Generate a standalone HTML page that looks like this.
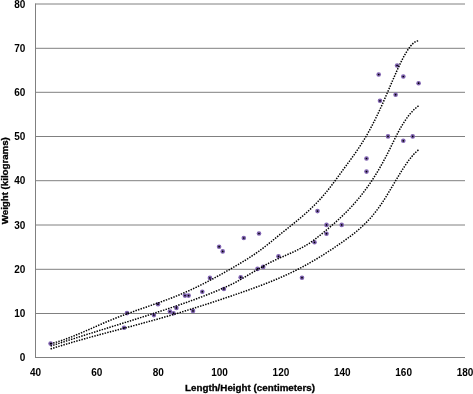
<!DOCTYPE html>
<html><head><meta charset="utf-8"><style>
html,body{margin:0;padding:0;background:#fff;}
body{width:473px;height:394px;overflow:hidden;}
svg{display:block;}
text{font-family:"Liberation Sans",sans-serif;font-weight:bold;fill:#000;}
.t{opacity:0.999;will-change:opacity;}
</style></head><body>
<svg width="473" height="394" viewBox="0 0 473 394">
<rect width="473" height="394" fill="#fff"/>
<g stroke="#808080" stroke-width="1" fill="none"><line x1="35" y1="313.50" x2="465" y2="313.50"/><line x1="35" y1="269.30" x2="465" y2="269.30"/><line x1="35" y1="225.00" x2="465" y2="225.00"/><line x1="35" y1="180.70" x2="465" y2="180.70"/><line x1="35" y1="136.50" x2="465" y2="136.50"/><line x1="35" y1="92.30" x2="465" y2="92.30"/><line x1="35" y1="48.30" x2="465" y2="48.30"/><line x1="35" y1="4.00" x2="465" y2="4.00"/>
<line x1="35.5" y1="3.6" x2="35.5" y2="358"/>
<line x1="35" y1="357.5" x2="465" y2="357.5"/>
</g>
<g class="t"><g font-size="10" text-anchor="end"><text x="25.4" y="361.10">0</text><text x="25.4" y="317.10">10</text><text x="25.4" y="272.90">20</text><text x="25.4" y="228.60">30</text><text x="25.4" y="184.30">40</text><text x="25.4" y="140.10">50</text><text x="25.4" y="95.90">60</text><text x="25.4" y="51.90">70</text><text x="25.4" y="7.60">80</text></g>
<g font-size="10" text-anchor="middle"><text x="35.50" y="375.7">40</text><text x="96.86" y="375.7">60</text><text x="158.21" y="375.7">80</text><text x="219.57" y="375.7">100</text><text x="280.93" y="375.7">120</text><text x="342.29" y="375.7">140</text><text x="403.64" y="375.7">160</text><text x="465.00" y="375.7">180</text></g>
<text x="185" y="391.3" font-size="9" stroke="#000" stroke-width="0.3" textLength="130" lengthAdjust="spacingAndGlyphs">Length/Height (centimeters)</text>
<text transform="translate(8.4,224.2) rotate(-90)" font-size="9" stroke="#000" stroke-width="0.3" textLength="87" lengthAdjust="spacingAndGlyphs">Weight (kilograms)</text></g>
<g fill="#7f62b0"><circle cx="50.6" cy="343.6" r="2.3"/><circle cx="127.0" cy="313.1" r="2.3"/><circle cx="124.1" cy="327.8" r="2.3"/><circle cx="153.9" cy="315.1" r="2.3"/><circle cx="158.0" cy="304.2" r="2.3"/><circle cx="169.9" cy="311.6" r="2.3"/><circle cx="173.5" cy="313.2" r="2.3"/><circle cx="176.4" cy="307.9" r="2.3"/><circle cx="185.0" cy="295.6" r="2.3"/><circle cx="188.6" cy="295.6" r="2.3"/><circle cx="193.0" cy="310.9" r="2.3"/><circle cx="202.3" cy="291.7" r="2.3"/><circle cx="209.9" cy="277.9" r="2.3"/><circle cx="219.1" cy="246.7" r="2.3"/><circle cx="222.7" cy="251.4" r="2.3"/><circle cx="240.7" cy="277.2" r="2.3"/><circle cx="243.8" cy="238.0" r="2.3"/><circle cx="259.0" cy="233.5" r="2.3"/><circle cx="257.5" cy="268.9" r="2.3"/><circle cx="263.2" cy="266.9" r="2.3"/><circle cx="278.5" cy="256.3" r="2.3"/><circle cx="302.0" cy="277.7" r="2.3"/><circle cx="314.5" cy="242.3" r="2.3"/><circle cx="317.5" cy="211.1" r="2.3"/><circle cx="326.5" cy="224.9" r="2.3"/><circle cx="326.5" cy="233.7" r="2.3"/><circle cx="341.7" cy="224.9" r="2.3"/><circle cx="366.5" cy="158.5" r="2.3"/><circle cx="366.5" cy="171.6" r="2.3"/><circle cx="378.7" cy="74.5" r="2.3"/><circle cx="380.0" cy="100.8" r="2.3"/><circle cx="388.0" cy="136.4" r="2.3"/><circle cx="395.6" cy="94.7" r="2.3"/><circle cx="397.1" cy="65.5" r="2.3"/><circle cx="403.3" cy="76.5" r="2.3"/><circle cx="403.3" cy="140.8" r="2.3"/><circle cx="412.7" cy="136.4" r="2.3"/><circle cx="418.6" cy="83.2" r="2.3"/><circle cx="223.9" cy="289.0" r="2.3"/></g>
<g fill="#000"><circle cx="50.6" cy="343.6" r="0.85"/><circle cx="127.0" cy="313.1" r="0.85"/><circle cx="124.1" cy="327.8" r="0.85"/><circle cx="153.9" cy="315.1" r="0.85"/><circle cx="158.0" cy="304.2" r="0.85"/><circle cx="169.9" cy="311.6" r="0.85"/><circle cx="173.5" cy="313.2" r="0.85"/><circle cx="176.4" cy="307.9" r="0.85"/><circle cx="185.0" cy="295.6" r="0.85"/><circle cx="188.6" cy="295.6" r="0.85"/><circle cx="193.0" cy="310.9" r="0.85"/><circle cx="202.3" cy="291.7" r="0.85"/><circle cx="209.9" cy="277.9" r="0.85"/><circle cx="219.1" cy="246.7" r="0.85"/><circle cx="222.7" cy="251.4" r="0.85"/><circle cx="240.7" cy="277.2" r="0.85"/><circle cx="243.8" cy="238.0" r="0.85"/><circle cx="259.0" cy="233.5" r="0.85"/><circle cx="257.5" cy="268.9" r="0.85"/><circle cx="263.2" cy="266.9" r="0.85"/><circle cx="278.5" cy="256.3" r="0.85"/><circle cx="302.0" cy="277.7" r="0.85"/><circle cx="314.5" cy="242.3" r="0.85"/><circle cx="317.5" cy="211.1" r="0.85"/><circle cx="326.5" cy="224.9" r="0.85"/><circle cx="326.5" cy="233.7" r="0.85"/><circle cx="341.7" cy="224.9" r="0.85"/><circle cx="366.5" cy="158.5" r="0.85"/><circle cx="366.5" cy="171.6" r="0.85"/><circle cx="378.7" cy="74.5" r="0.85"/><circle cx="380.0" cy="100.8" r="0.85"/><circle cx="388.0" cy="136.4" r="0.85"/><circle cx="395.6" cy="94.7" r="0.85"/><circle cx="397.1" cy="65.5" r="0.85"/><circle cx="403.3" cy="76.5" r="0.85"/><circle cx="403.3" cy="140.8" r="0.85"/><circle cx="412.7" cy="136.4" r="0.85"/><circle cx="418.6" cy="83.2" r="0.85"/><circle cx="223.9" cy="289.0" r="0.85"/></g>
<g fill="none" stroke="#000" stroke-width="1.5" stroke-dasharray="1.45 1.23">
<path d="M50.60,343.75 C50.85,343.69 51.60,343.50 52.10,343.37 C52.60,343.23 53.10,343.10 53.60,342.96 C54.10,342.82 54.60,342.68 55.10,342.54 C55.60,342.39 56.10,342.25 56.60,342.10 C57.10,341.95 57.60,341.79 58.10,341.64 C58.60,341.48 59.10,341.32 59.60,341.16 C60.10,341.00 60.60,340.84 61.10,340.67 C61.60,340.51 62.10,340.34 62.60,340.17 C63.10,339.99 63.60,339.82 64.10,339.64 C64.60,339.47 65.10,339.29 65.60,339.11 C66.10,338.93 66.60,338.75 67.10,338.56 C67.60,338.38 68.10,338.19 68.60,338.00 C69.10,337.81 69.60,337.62 70.10,337.43 C70.60,337.23 71.10,337.04 71.60,336.84 C72.10,336.65 72.60,336.45 73.10,336.25 C73.60,336.05 74.10,335.85 74.60,335.65 C75.10,335.44 75.60,335.24 76.10,335.03 C76.60,334.83 77.10,334.62 77.60,334.41 C78.10,334.20 78.60,334.00 79.10,333.78 C79.60,333.57 80.10,333.36 80.60,333.15 C81.10,332.94 81.60,332.72 82.10,332.51 C82.60,332.29 83.10,332.08 83.60,331.86 C84.10,331.65 84.60,331.43 85.10,331.21 C85.60,330.99 86.10,330.78 86.60,330.56 C87.10,330.34 87.60,330.12 88.10,329.90 C88.60,329.68 89.10,329.46 89.60,329.24 C90.10,329.02 90.60,328.80 91.10,328.58 C91.60,328.36 92.10,328.14 92.60,327.92 C93.10,327.69 93.60,327.47 94.10,327.25 C94.60,327.03 95.10,326.81 95.60,326.59 C96.10,326.37 96.60,326.15 97.10,325.93 C97.60,325.71 98.10,325.49 98.60,325.27 C99.10,325.05 99.60,324.83 100.10,324.61 C100.60,324.39 101.10,324.17 101.60,323.96 C102.10,323.74 102.60,323.52 103.10,323.31 C103.60,323.09 104.10,322.88 104.60,322.66 C105.10,322.45 105.60,322.24 106.10,322.02 C106.60,321.81 107.10,321.60 107.60,321.39 C108.10,321.18 108.60,320.97 109.10,320.76 C109.60,320.56 110.10,320.35 110.60,320.15 C111.10,319.94 111.60,319.74 112.10,319.53 C112.60,319.33 113.10,319.13 113.60,318.93 C114.10,318.73 114.60,318.53 115.10,318.34 C115.60,318.14 116.10,317.94 116.60,317.75 C117.10,317.55 117.60,317.36 118.10,317.17 C118.60,316.97 119.10,316.78 119.60,316.59 C120.10,316.40 120.60,316.21 121.10,316.02 C121.60,315.83 122.10,315.65 122.60,315.46 C123.10,315.27 123.60,315.09 124.10,314.90 C124.60,314.72 125.10,314.53 125.60,314.35 C126.10,314.16 126.60,313.98 127.10,313.80 C127.60,313.62 128.10,313.44 128.60,313.25 C129.10,313.07 129.60,312.89 130.10,312.71 C130.60,312.54 131.10,312.36 131.60,312.18 C132.10,312.00 132.60,311.82 133.10,311.64 C133.60,311.47 134.10,311.29 134.60,311.11 C135.10,310.94 135.60,310.76 136.10,310.58 C136.60,310.41 137.10,310.23 137.60,310.06 C138.10,309.88 138.60,309.71 139.10,309.53 C139.60,309.36 140.10,309.18 140.60,309.01 C141.10,308.84 141.60,308.66 142.10,308.49 C142.60,308.31 143.10,308.14 143.60,307.97 C144.10,307.79 144.60,307.62 145.10,307.44 C145.60,307.27 146.10,307.10 146.60,306.92 C147.10,306.75 147.60,306.57 148.10,306.40 C148.60,306.23 149.10,306.05 149.60,305.88 C150.10,305.70 150.60,305.53 151.10,305.35 C151.60,305.18 152.10,305.00 152.60,304.83 C153.10,304.65 153.60,304.48 154.10,304.30 C154.60,304.13 155.10,303.95 155.60,303.77 C156.10,303.59 156.60,303.42 157.10,303.24 C157.60,303.06 158.10,302.88 158.60,302.70 C159.10,302.53 159.60,302.35 160.10,302.17 C160.60,301.99 161.10,301.81 161.60,301.62 C162.10,301.44 162.60,301.26 163.10,301.08 C163.60,300.89 164.10,300.71 164.60,300.53 C165.10,300.34 165.60,300.16 166.10,299.97 C166.60,299.79 167.10,299.60 167.60,299.41 C168.10,299.22 168.60,299.04 169.10,298.85 C169.60,298.66 170.10,298.47 170.60,298.27 C171.10,298.08 171.60,297.89 172.10,297.70 C172.60,297.50 173.10,297.31 173.60,297.11 C174.10,296.92 174.60,296.72 175.10,296.52 C175.60,296.32 176.10,296.12 176.60,295.92 C177.10,295.72 177.60,295.52 178.10,295.31 C178.60,295.11 179.10,294.91 179.60,294.70 C180.10,294.49 180.60,294.29 181.10,294.08 C181.60,293.87 182.10,293.66 182.60,293.45 C183.10,293.23 183.60,293.02 184.10,292.81 C184.60,292.59 185.10,292.37 185.60,292.16 C186.10,291.94 186.60,291.72 187.10,291.50 C187.60,291.27 188.10,291.05 188.60,290.83 C189.10,290.60 189.60,290.38 190.10,290.15 C190.60,289.92 191.10,289.69 191.60,289.46 C192.10,289.23 192.60,289.00 193.10,288.76 C193.60,288.53 194.10,288.30 194.60,288.06 C195.10,287.82 195.60,287.58 196.10,287.34 C196.60,287.11 197.10,286.86 197.60,286.62 C198.10,286.38 198.60,286.14 199.10,285.89 C199.60,285.65 200.10,285.40 200.60,285.15 C201.10,284.90 201.60,284.66 202.10,284.40 C202.60,284.15 203.10,283.90 203.60,283.65 C204.10,283.40 204.60,283.14 205.10,282.89 C205.60,282.63 206.10,282.38 206.60,282.12 C207.10,281.86 207.60,281.60 208.10,281.34 C208.60,281.08 209.10,280.82 209.60,280.56 C210.10,280.29 210.60,280.03 211.10,279.76 C211.60,279.50 212.10,279.23 212.60,278.97 C213.10,278.70 213.60,278.43 214.10,278.16 C214.60,277.89 215.10,277.62 215.60,277.35 C216.10,277.08 216.60,276.81 217.10,276.53 C217.60,276.26 218.10,275.99 218.60,275.71 C219.10,275.43 219.60,275.16 220.10,274.88 C220.60,274.60 221.10,274.33 221.60,274.05 C222.10,273.77 222.60,273.49 223.10,273.21 C223.60,272.93 224.10,272.64 224.60,272.36 C225.10,272.08 225.60,271.79 226.10,271.51 C226.60,271.23 227.10,270.94 227.60,270.65 C228.10,270.37 228.60,270.08 229.10,269.79 C229.60,269.51 230.10,269.22 230.60,268.93 C231.10,268.64 231.60,268.35 232.10,268.06 C232.60,267.77 233.10,267.48 233.60,267.18 C234.10,266.89 234.60,266.60 235.10,266.31 C235.60,266.01 236.10,265.72 236.60,265.42 C237.10,265.13 237.60,264.83 238.10,264.54 C238.60,264.24 239.10,263.95 239.60,263.65 C240.10,263.35 240.60,263.05 241.10,262.76 C241.60,262.46 242.10,262.16 242.60,261.86 C243.10,261.55 243.60,261.25 244.10,260.95 C244.60,260.64 245.10,260.34 245.60,260.03 C246.10,259.72 246.60,259.41 247.10,259.10 C247.60,258.79 248.10,258.48 248.60,258.16 C249.10,257.85 249.60,257.53 250.10,257.21 C250.60,256.88 251.10,256.56 251.60,256.23 C252.10,255.91 252.60,255.58 253.10,255.24 C253.60,254.91 254.10,254.57 254.60,254.23 C255.10,253.89 255.60,253.55 256.10,253.20 C256.60,252.85 257.10,252.50 257.60,252.15 C258.10,251.79 258.60,251.43 259.10,251.07 C259.60,250.70 260.10,250.34 260.60,249.96 C261.10,249.59 261.60,249.22 262.10,248.84 C262.60,248.46 263.10,248.08 263.60,247.69 C264.10,247.30 264.60,246.92 265.10,246.53 C265.60,246.13 266.10,245.74 266.60,245.34 C267.10,244.95 267.60,244.55 268.10,244.15 C268.60,243.75 269.10,243.35 269.60,242.95 C270.10,242.54 270.60,242.14 271.10,241.73 C271.60,241.32 272.10,240.92 272.60,240.51 C273.10,240.10 273.60,239.69 274.10,239.28 C274.60,238.87 275.10,238.47 275.60,238.06 C276.10,237.65 276.60,237.24 277.10,236.83 C277.60,236.42 278.10,236.01 278.60,235.60 C279.10,235.19 279.60,234.79 280.10,234.38 C280.60,233.97 281.10,233.57 281.60,233.16 C282.10,232.76 282.60,232.36 283.10,231.96 C283.60,231.55 284.10,231.15 284.60,230.75 C285.10,230.35 285.60,229.95 286.10,229.55 C286.60,229.15 287.10,228.76 287.60,228.36 C288.10,227.96 288.60,227.56 289.10,227.16 C289.60,226.76 290.10,226.36 290.60,225.96 C291.10,225.56 291.60,225.16 292.10,224.76 C292.60,224.36 293.10,223.95 293.60,223.55 C294.10,223.14 294.60,222.74 295.10,222.33 C295.60,221.92 296.10,221.52 296.60,221.11 C297.10,220.70 297.60,220.28 298.10,219.87 C298.60,219.45 299.10,219.04 299.60,218.62 C300.10,218.20 300.60,217.78 301.10,217.35 C301.60,216.93 302.10,216.50 302.60,216.07 C303.10,215.64 303.60,215.20 304.10,214.77 C304.60,214.33 305.10,213.89 305.60,213.45 C306.10,213.00 306.60,212.55 307.10,212.10 C307.60,211.65 308.10,211.19 308.60,210.73 C309.10,210.27 309.60,209.80 310.10,209.33 C310.60,208.86 311.10,208.39 311.60,207.91 C312.10,207.43 312.60,206.95 313.10,206.46 C313.60,205.97 314.10,205.47 314.60,204.97 C315.10,204.47 315.60,203.96 316.10,203.45 C316.60,202.94 317.10,202.42 317.60,201.89 C318.10,201.37 318.60,200.84 319.10,200.30 C319.60,199.76 320.10,199.22 320.60,198.67 C321.10,198.12 321.60,197.56 322.10,196.99 C322.60,196.43 323.10,195.86 323.60,195.28 C324.10,194.70 324.60,194.11 325.10,193.51 C325.60,192.92 326.10,192.31 326.60,191.70 C327.10,191.09 327.60,190.47 328.10,189.85 C328.60,189.22 329.10,188.59 329.60,187.95 C330.10,187.31 330.60,186.66 331.10,186.01 C331.60,185.36 332.10,184.70 332.60,184.04 C333.10,183.38 333.60,182.71 334.10,182.04 C334.60,181.37 335.10,180.70 335.60,180.02 C336.10,179.35 336.60,178.67 337.10,177.99 C337.60,177.31 338.10,176.62 338.60,175.94 C339.10,175.25 339.60,174.57 340.10,173.88 C340.60,173.20 341.10,172.51 341.60,171.83 C342.10,171.14 342.60,170.46 343.10,169.77 C343.60,169.09 344.10,168.41 344.60,167.73 C345.10,167.05 345.60,166.37 346.10,165.70 C346.60,165.02 347.10,164.34 347.60,163.66 C348.10,162.99 348.60,162.31 349.10,161.63 C349.60,160.95 350.10,160.27 350.60,159.59 C351.10,158.90 351.60,158.22 352.10,157.53 C352.60,156.84 353.10,156.15 353.60,155.45 C354.10,154.75 354.60,154.05 355.10,153.34 C355.60,152.63 356.10,151.91 356.60,151.19 C357.10,150.47 357.60,149.74 358.10,149.00 C358.60,148.26 359.10,147.52 359.60,146.76 C360.10,146.01 360.60,145.25 361.10,144.47 C361.60,143.70 362.10,142.92 362.60,142.12 C363.10,141.32 363.60,140.52 364.10,139.70 C364.60,138.88 365.10,138.05 365.60,137.20 C366.10,136.36 366.60,135.50 367.10,134.63 C367.60,133.75 368.10,132.87 368.60,131.97 C369.10,131.07 369.60,130.16 370.10,129.23 C370.60,128.31 371.10,127.37 371.60,126.42 C372.10,125.47 372.60,124.51 373.10,123.53 C373.60,122.56 374.10,121.57 374.60,120.57 C375.10,119.57 375.60,118.56 376.10,117.54 C376.60,116.51 377.10,115.48 377.60,114.43 C378.10,113.39 378.60,112.33 379.10,111.26 C379.60,110.20 380.10,109.12 380.60,108.03 C381.10,106.94 381.60,105.84 382.10,104.73 C382.60,103.62 383.10,102.50 383.60,101.37 C384.10,100.24 384.60,99.11 385.10,97.96 C385.60,96.82 386.10,95.66 386.60,94.51 C387.10,93.35 387.60,92.19 388.10,91.03 C388.60,89.86 389.10,88.70 389.60,87.53 C390.10,86.37 390.60,85.20 391.10,84.04 C391.60,82.88 392.10,81.72 392.60,80.56 C393.10,79.41 393.60,78.26 394.10,77.11 C394.60,75.97 395.10,74.83 395.60,73.71 C396.10,72.58 396.60,71.46 397.10,70.36 C397.60,69.25 398.10,68.16 398.60,67.08 C399.10,66.01 399.60,64.94 400.10,63.90 C400.60,62.86 401.10,61.84 401.60,60.84 C402.10,59.84 402.60,58.86 403.10,57.91 C403.60,56.96 404.10,56.04 404.60,55.14 C405.10,54.25 405.60,53.38 406.10,52.55 C406.60,51.72 407.10,50.92 407.60,50.16 C408.10,49.40 408.60,48.68 409.10,48.00 C409.60,47.31 410.10,46.67 410.60,46.07 C411.10,45.47 411.60,44.91 412.10,44.41 C412.60,43.90 413.10,43.44 413.60,43.03 C414.10,42.62 414.60,42.26 415.10,41.96 C415.60,41.65 416.10,41.40 416.60,41.21 C417.10,41.02 417.77,40.89 418.10,40.81 C418.43,40.74 418.52,40.77 418.60,40.76"/>
<path d="M50.60,346.10 C50.85,346.02 51.60,345.77 52.10,345.61 C52.60,345.45 53.10,345.28 53.60,345.12 C54.10,344.95 54.60,344.79 55.10,344.63 C55.60,344.46 56.10,344.30 56.60,344.14 C57.10,343.97 57.60,343.81 58.10,343.65 C58.60,343.49 59.10,343.32 59.60,343.16 C60.10,343.00 60.60,342.84 61.10,342.68 C61.60,342.51 62.10,342.35 62.60,342.19 C63.10,342.03 63.60,341.87 64.10,341.71 C64.60,341.54 65.10,341.38 65.60,341.22 C66.10,341.06 66.60,340.90 67.10,340.74 C67.60,340.58 68.10,340.42 68.60,340.26 C69.10,340.10 69.60,339.94 70.10,339.78 C70.60,339.62 71.10,339.46 71.60,339.30 C72.10,339.14 72.60,338.98 73.10,338.82 C73.60,338.66 74.10,338.50 74.60,338.35 C75.10,338.19 75.60,338.03 76.10,337.87 C76.60,337.71 77.10,337.55 77.60,337.39 C78.10,337.23 78.60,337.08 79.10,336.92 C79.60,336.76 80.10,336.60 80.60,336.44 C81.10,336.29 81.60,336.13 82.10,335.97 C82.60,335.81 83.10,335.65 83.60,335.50 C84.10,335.34 84.60,335.18 85.10,335.02 C85.60,334.87 86.10,334.71 86.60,334.55 C87.10,334.39 87.60,334.24 88.10,334.08 C88.60,333.92 89.10,333.77 89.60,333.61 C90.10,333.45 90.60,333.30 91.10,333.14 C91.60,332.98 92.10,332.83 92.60,332.67 C93.10,332.51 93.60,332.36 94.10,332.20 C94.60,332.04 95.10,331.89 95.60,331.73 C96.10,331.57 96.60,331.42 97.10,331.26 C97.60,331.10 98.10,330.95 98.60,330.79 C99.10,330.63 99.60,330.48 100.10,330.32 C100.60,330.17 101.10,330.01 101.60,329.85 C102.10,329.70 102.60,329.54 103.10,329.39 C103.60,329.23 104.10,329.07 104.60,328.92 C105.10,328.76 105.60,328.60 106.10,328.45 C106.60,328.29 107.10,328.14 107.60,327.98 C108.10,327.82 108.60,327.67 109.10,327.51 C109.60,327.36 110.10,327.20 110.60,327.04 C111.10,326.89 111.60,326.73 112.10,326.58 C112.60,326.42 113.10,326.26 113.60,326.11 C114.10,325.95 114.60,325.79 115.10,325.64 C115.60,325.48 116.10,325.33 116.60,325.17 C117.10,325.01 117.60,324.86 118.10,324.70 C118.60,324.54 119.10,324.39 119.60,324.23 C120.10,324.07 120.60,323.92 121.10,323.76 C121.60,323.61 122.10,323.45 122.60,323.29 C123.10,323.14 123.60,322.98 124.10,322.82 C124.60,322.66 125.10,322.51 125.60,322.35 C126.10,322.19 126.60,322.04 127.10,321.88 C127.60,321.72 128.10,321.57 128.60,321.41 C129.10,321.25 129.60,321.09 130.10,320.94 C130.60,320.78 131.10,320.62 131.60,320.46 C132.10,320.31 132.60,320.15 133.10,319.99 C133.60,319.83 134.10,319.67 134.60,319.52 C135.10,319.36 135.60,319.20 136.10,319.04 C136.60,318.88 137.10,318.73 137.60,318.57 C138.10,318.41 138.60,318.25 139.10,318.09 C139.60,317.93 140.10,317.77 140.60,317.61 C141.10,317.46 141.60,317.30 142.10,317.14 C142.60,316.98 143.10,316.82 143.60,316.66 C144.10,316.50 144.60,316.34 145.10,316.18 C145.60,316.02 146.10,315.86 146.60,315.70 C147.10,315.54 147.60,315.38 148.10,315.22 C148.60,315.06 149.10,314.90 149.60,314.74 C150.10,314.58 150.60,314.41 151.10,314.25 C151.60,314.09 152.10,313.93 152.60,313.77 C153.10,313.61 153.60,313.45 154.10,313.28 C154.60,313.12 155.10,312.96 155.60,312.80 C156.10,312.64 156.60,312.47 157.10,312.31 C157.60,312.15 158.10,311.99 158.60,311.82 C159.10,311.66 159.60,311.50 160.10,311.33 C160.60,311.17 161.10,311.00 161.60,310.84 C162.10,310.68 162.60,310.51 163.10,310.35 C163.60,310.18 164.10,310.02 164.60,309.85 C165.10,309.69 165.60,309.52 166.10,309.36 C166.60,309.19 167.10,309.03 167.60,308.86 C168.10,308.70 168.60,308.53 169.10,308.36 C169.60,308.20 170.10,308.03 170.60,307.86 C171.10,307.69 171.60,307.53 172.10,307.36 C172.60,307.19 173.10,307.02 173.60,306.85 C174.10,306.69 174.60,306.52 175.10,306.35 C175.60,306.18 176.10,306.01 176.60,305.84 C177.10,305.67 177.60,305.50 178.10,305.32 C178.60,305.15 179.10,304.98 179.60,304.81 C180.10,304.64 180.60,304.46 181.10,304.29 C181.60,304.12 182.10,303.95 182.60,303.77 C183.10,303.60 183.60,303.42 184.10,303.25 C184.60,303.07 185.10,302.90 185.60,302.72 C186.10,302.54 186.60,302.37 187.10,302.19 C187.60,302.01 188.10,301.83 188.60,301.66 C189.10,301.48 189.60,301.30 190.10,301.12 C190.60,300.94 191.10,300.76 191.60,300.58 C192.10,300.40 192.60,300.22 193.10,300.03 C193.60,299.85 194.10,299.67 194.60,299.48 C195.10,299.30 195.60,299.12 196.10,298.93 C196.60,298.75 197.10,298.56 197.60,298.37 C198.10,298.19 198.60,298.00 199.10,297.81 C199.60,297.63 200.10,297.44 200.60,297.25 C201.10,297.06 201.60,296.87 202.10,296.68 C202.60,296.49 203.10,296.30 203.60,296.10 C204.10,295.91 204.60,295.72 205.10,295.52 C205.60,295.33 206.10,295.13 206.60,294.94 C207.10,294.74 207.60,294.55 208.10,294.35 C208.60,294.15 209.10,293.95 209.60,293.75 C210.10,293.56 210.60,293.36 211.10,293.15 C211.60,292.95 212.10,292.75 212.60,292.55 C213.10,292.35 213.60,292.14 214.10,291.94 C214.60,291.73 215.10,291.53 215.60,291.32 C216.10,291.11 216.60,290.91 217.10,290.70 C217.60,290.49 218.10,290.28 218.60,290.07 C219.10,289.86 219.60,289.65 220.10,289.44 C220.60,289.22 221.10,289.01 221.60,288.80 C222.10,288.58 222.60,288.36 223.10,288.15 C223.60,287.93 224.10,287.71 224.60,287.49 C225.10,287.28 225.60,287.06 226.10,286.83 C226.60,286.61 227.10,286.39 227.60,286.16 C228.10,285.93 228.60,285.71 229.10,285.47 C229.60,285.24 230.10,285.01 230.60,284.77 C231.10,284.53 231.60,284.29 232.10,284.05 C232.60,283.80 233.10,283.56 233.60,283.30 C234.10,283.05 234.60,282.79 235.10,282.53 C235.60,282.27 236.10,282.00 236.60,281.73 C237.10,281.46 237.60,281.19 238.10,280.91 C238.60,280.63 239.10,280.35 239.60,280.07 C240.10,279.79 240.60,279.50 241.10,279.22 C241.60,278.93 242.10,278.64 242.60,278.35 C243.10,278.06 243.60,277.77 244.10,277.48 C244.60,277.18 245.10,276.89 245.60,276.60 C246.10,276.30 246.60,276.00 247.10,275.71 C247.60,275.41 248.10,275.11 248.60,274.82 C249.10,274.52 249.60,274.22 250.10,273.92 C250.60,273.62 251.10,273.32 251.60,273.03 C252.10,272.73 252.60,272.43 253.10,272.13 C253.60,271.83 254.10,271.54 254.60,271.24 C255.10,270.94 255.60,270.65 256.10,270.35 C256.60,270.05 257.10,269.76 257.60,269.47 C258.10,269.17 258.60,268.88 259.10,268.59 C259.60,268.30 260.10,268.01 260.60,267.72 C261.10,267.43 261.60,267.15 262.10,266.86 C262.60,266.58 263.10,266.30 263.60,266.02 C264.10,265.74 264.60,265.46 265.10,265.18 C265.60,264.91 266.10,264.63 266.60,264.36 C267.10,264.09 267.60,263.82 268.10,263.56 C268.60,263.30 269.10,263.03 269.60,262.77 C270.10,262.52 270.60,262.26 271.10,262.01 C271.60,261.76 272.10,261.51 272.60,261.26 C273.10,261.02 273.60,260.78 274.10,260.54 C274.60,260.30 275.10,260.07 275.60,259.83 C276.10,259.60 276.60,259.37 277.10,259.14 C277.60,258.91 278.10,258.69 278.60,258.46 C279.10,258.24 279.60,258.02 280.10,257.80 C280.60,257.58 281.10,257.36 281.60,257.14 C282.10,256.92 282.60,256.70 283.10,256.48 C283.60,256.26 284.10,256.05 284.60,255.83 C285.10,255.61 285.60,255.40 286.10,255.18 C286.60,254.96 287.10,254.74 287.60,254.52 C288.10,254.30 288.60,254.09 289.10,253.86 C289.60,253.64 290.10,253.42 290.60,253.20 C291.10,252.97 291.60,252.75 292.10,252.52 C292.60,252.29 293.10,252.07 293.60,251.83 C294.10,251.60 294.60,251.37 295.10,251.13 C295.60,250.89 296.10,250.65 296.60,250.41 C297.10,250.17 297.60,249.92 298.10,249.67 C298.60,249.42 299.10,249.16 299.60,248.90 C300.10,248.65 300.60,248.38 301.10,248.12 C301.60,247.85 302.10,247.58 302.60,247.30 C303.10,247.02 303.60,246.74 304.10,246.45 C304.60,246.17 305.10,245.87 305.60,245.58 C306.10,245.28 306.60,244.97 307.10,244.66 C307.60,244.35 308.10,244.04 308.60,243.71 C309.10,243.39 309.60,243.06 310.10,242.72 C310.60,242.38 311.10,242.04 311.60,241.69 C312.10,241.34 312.60,240.98 313.10,240.62 C313.60,240.26 314.10,239.89 314.60,239.51 C315.10,239.14 315.60,238.76 316.10,238.38 C316.60,238.00 317.10,237.61 317.60,237.22 C318.10,236.83 318.60,236.43 319.10,236.03 C319.60,235.64 320.10,235.23 320.60,234.83 C321.10,234.43 321.60,234.02 322.10,233.61 C322.60,233.20 323.10,232.79 323.60,232.38 C324.10,231.97 324.60,231.56 325.10,231.14 C325.60,230.73 326.10,230.31 326.60,229.90 C327.10,229.48 327.60,229.06 328.10,228.64 C328.60,228.22 329.10,227.80 329.60,227.37 C330.10,226.95 330.60,226.52 331.10,226.09 C331.60,225.66 332.10,225.23 332.60,224.80 C333.10,224.37 333.60,223.93 334.10,223.49 C334.60,223.05 335.10,222.61 335.60,222.16 C336.10,221.72 336.60,221.27 337.10,220.82 C337.60,220.37 338.10,219.91 338.60,219.45 C339.10,218.99 339.60,218.53 340.10,218.06 C340.60,217.60 341.10,217.13 341.60,216.65 C342.10,216.18 342.60,215.70 343.10,215.22 C343.60,214.73 344.10,214.25 344.60,213.75 C345.10,213.26 345.60,212.76 346.10,212.26 C346.60,211.76 347.10,211.25 347.60,210.74 C348.10,210.23 348.60,209.71 349.10,209.19 C349.60,208.66 350.10,208.13 350.60,207.60 C351.10,207.06 351.60,206.52 352.10,205.98 C352.60,205.43 353.10,204.88 353.60,204.32 C354.10,203.76 354.60,203.20 355.10,202.62 C355.60,202.05 356.10,201.47 356.60,200.89 C357.10,200.30 357.60,199.71 358.10,199.11 C358.60,198.51 359.10,197.90 359.60,197.29 C360.10,196.68 360.60,196.06 361.10,195.43 C361.60,194.80 362.10,194.16 362.60,193.52 C363.10,192.87 363.60,192.22 364.10,191.56 C364.60,190.90 365.10,190.23 365.60,189.55 C366.10,188.87 366.60,188.19 367.10,187.49 C367.60,186.80 368.10,186.10 368.60,185.38 C369.10,184.67 369.60,183.95 370.10,183.22 C370.60,182.49 371.10,181.75 371.60,181.00 C372.10,180.25 372.60,179.49 373.10,178.72 C373.60,177.95 374.10,177.18 374.60,176.39 C375.10,175.60 375.60,174.80 376.10,173.99 C376.60,173.18 377.10,172.36 377.60,171.53 C378.10,170.70 378.60,169.86 379.10,169.01 C379.60,168.15 380.10,167.29 380.60,166.42 C381.10,165.54 381.60,164.66 382.10,163.76 C382.60,162.86 383.10,161.96 383.60,161.03 C384.10,160.11 384.60,159.18 385.10,158.24 C385.60,157.29 386.10,156.34 386.60,155.37 C387.10,154.40 387.60,153.42 388.10,152.43 C388.60,151.43 389.10,150.43 389.60,149.42 C390.10,148.41 390.60,147.39 391.10,146.37 C391.60,145.35 392.10,144.33 392.60,143.31 C393.10,142.29 393.60,141.27 394.10,140.26 C394.60,139.25 395.10,138.24 395.60,137.25 C396.10,136.25 396.60,135.27 397.10,134.30 C397.60,133.33 398.10,132.37 398.60,131.44 C399.10,130.51 399.60,129.59 400.10,128.70 C400.60,127.81 401.10,126.94 401.60,126.10 C402.10,125.25 402.60,124.43 403.10,123.63 C403.60,122.83 404.10,122.06 404.60,121.30 C405.10,120.55 405.60,119.82 406.10,119.11 C406.60,118.40 407.10,117.71 407.60,117.05 C408.10,116.38 408.60,115.74 409.10,115.11 C409.60,114.49 410.10,113.89 410.60,113.31 C411.10,112.73 411.60,112.18 412.10,111.64 C412.60,111.10 413.10,110.59 413.60,110.09 C414.10,109.60 414.60,109.12 415.10,108.67 C415.60,108.22 416.10,107.78 416.60,107.37 C417.10,106.96 417.77,106.45 418.10,106.19 C418.43,105.94 418.52,105.89 418.60,105.83"/>
<path d="M50.60,349.00 C50.85,348.91 51.60,348.67 52.10,348.51 C52.60,348.35 53.10,348.19 53.60,348.03 C54.10,347.87 54.60,347.71 55.10,347.55 C55.60,347.39 56.10,347.24 56.60,347.08 C57.10,346.92 57.60,346.77 58.10,346.61 C58.60,346.45 59.10,346.30 59.60,346.14 C60.10,345.99 60.60,345.83 61.10,345.68 C61.60,345.53 62.10,345.37 62.60,345.22 C63.10,345.07 63.60,344.91 64.10,344.76 C64.60,344.61 65.10,344.46 65.60,344.31 C66.10,344.16 66.60,344.01 67.10,343.86 C67.60,343.71 68.10,343.56 68.60,343.41 C69.10,343.26 69.60,343.11 70.10,342.97 C70.60,342.82 71.10,342.67 71.60,342.52 C72.10,342.38 72.60,342.23 73.10,342.08 C73.60,341.94 74.10,341.79 74.60,341.65 C75.10,341.50 75.60,341.36 76.10,341.21 C76.60,341.07 77.10,340.92 77.60,340.78 C78.10,340.64 78.60,340.49 79.10,340.35 C79.60,340.21 80.10,340.07 80.60,339.92 C81.10,339.78 81.60,339.64 82.10,339.50 C82.60,339.36 83.10,339.22 83.60,339.08 C84.10,338.94 84.60,338.80 85.10,338.66 C85.60,338.52 86.10,338.38 86.60,338.24 C87.10,338.10 87.60,337.96 88.10,337.82 C88.60,337.68 89.10,337.54 89.60,337.40 C90.10,337.27 90.60,337.13 91.10,336.99 C91.60,336.85 92.10,336.72 92.60,336.58 C93.10,336.44 93.60,336.31 94.10,336.17 C94.60,336.03 95.10,335.90 95.60,335.76 C96.10,335.62 96.60,335.49 97.10,335.35 C97.60,335.22 98.10,335.08 98.60,334.95 C99.10,334.81 99.60,334.68 100.10,334.54 C100.60,334.41 101.10,334.27 101.60,334.14 C102.10,334.00 102.60,333.87 103.10,333.73 C103.60,333.60 104.10,333.47 104.60,333.33 C105.10,333.20 105.60,333.06 106.10,332.93 C106.60,332.80 107.10,332.66 107.60,332.53 C108.10,332.40 108.60,332.26 109.10,332.13 C109.60,332.00 110.10,331.86 110.60,331.73 C111.10,331.60 111.60,331.47 112.10,331.33 C112.60,331.20 113.10,331.07 113.60,330.94 C114.10,330.80 114.60,330.67 115.10,330.54 C115.60,330.40 116.10,330.27 116.60,330.14 C117.10,330.01 117.60,329.88 118.10,329.74 C118.60,329.61 119.10,329.48 119.60,329.35 C120.10,329.21 120.60,329.08 121.10,328.95 C121.60,328.82 122.10,328.68 122.60,328.55 C123.10,328.42 123.60,328.29 124.10,328.15 C124.60,328.02 125.10,327.89 125.60,327.76 C126.10,327.62 126.60,327.49 127.10,327.36 C127.60,327.23 128.10,327.09 128.60,326.96 C129.10,326.83 129.60,326.70 130.10,326.56 C130.60,326.43 131.10,326.30 131.60,326.16 C132.10,326.03 132.60,325.90 133.10,325.76 C133.60,325.63 134.10,325.50 134.60,325.36 C135.10,325.23 135.60,325.10 136.10,324.96 C136.60,324.83 137.10,324.70 137.60,324.56 C138.10,324.43 138.60,324.29 139.10,324.16 C139.60,324.02 140.10,323.89 140.60,323.75 C141.10,323.62 141.60,323.48 142.10,323.35 C142.60,323.21 143.10,323.08 143.60,322.94 C144.10,322.81 144.60,322.67 145.10,322.53 C145.60,322.40 146.10,322.26 146.60,322.13 C147.10,321.99 147.60,321.85 148.10,321.72 C148.60,321.58 149.10,321.44 149.60,321.30 C150.10,321.17 150.60,321.03 151.10,320.89 C151.60,320.75 152.10,320.61 152.60,320.47 C153.10,320.34 153.60,320.20 154.10,320.06 C154.60,319.92 155.10,319.78 155.60,319.64 C156.10,319.50 156.60,319.36 157.10,319.22 C157.60,319.08 158.10,318.94 158.60,318.79 C159.10,318.65 159.60,318.51 160.10,318.37 C160.60,318.23 161.10,318.09 161.60,317.94 C162.10,317.80 162.60,317.66 163.10,317.51 C163.60,317.37 164.10,317.23 164.60,317.08 C165.10,316.94 165.60,316.79 166.10,316.65 C166.60,316.50 167.10,316.36 167.60,316.21 C168.10,316.07 168.60,315.92 169.10,315.77 C169.60,315.63 170.10,315.48 170.60,315.33 C171.10,315.18 171.60,315.04 172.10,314.89 C172.60,314.74 173.10,314.59 173.60,314.44 C174.10,314.30 174.60,314.15 175.10,314.00 C175.60,313.85 176.10,313.70 176.60,313.55 C177.10,313.40 177.60,313.25 178.10,313.10 C178.60,312.95 179.10,312.80 179.60,312.64 C180.10,312.49 180.60,312.34 181.10,312.19 C181.60,312.04 182.10,311.88 182.60,311.73 C183.10,311.58 183.60,311.43 184.10,311.27 C184.60,311.12 185.10,310.96 185.60,310.81 C186.10,310.66 186.60,310.50 187.10,310.35 C187.60,310.19 188.10,310.04 188.60,309.88 C189.10,309.73 189.60,309.57 190.10,309.42 C190.60,309.26 191.10,309.10 191.60,308.95 C192.10,308.79 192.60,308.63 193.10,308.48 C193.60,308.32 194.10,308.16 194.60,308.00 C195.10,307.85 195.60,307.69 196.10,307.53 C196.60,307.37 197.10,307.21 197.60,307.05 C198.10,306.89 198.60,306.73 199.10,306.57 C199.60,306.42 200.10,306.26 200.60,306.10 C201.10,305.93 201.60,305.77 202.10,305.61 C202.60,305.45 203.10,305.29 203.60,305.13 C204.10,304.97 204.60,304.81 205.10,304.65 C205.60,304.48 206.10,304.32 206.60,304.16 C207.10,304.00 207.60,303.83 208.10,303.67 C208.60,303.51 209.10,303.34 209.60,303.18 C210.10,303.02 210.60,302.85 211.10,302.69 C211.60,302.53 212.10,302.36 212.60,302.20 C213.10,302.03 213.60,301.87 214.10,301.70 C214.60,301.54 215.10,301.37 215.60,301.21 C216.10,301.04 216.60,300.87 217.10,300.71 C217.60,300.54 218.10,300.38 218.60,300.21 C219.10,300.04 219.60,299.88 220.10,299.71 C220.60,299.54 221.10,299.37 221.60,299.21 C222.10,299.04 222.60,298.87 223.10,298.70 C223.60,298.54 224.10,298.37 224.60,298.20 C225.10,298.03 225.60,297.86 226.10,297.69 C226.60,297.52 227.10,297.35 227.60,297.18 C228.10,297.02 228.60,296.85 229.10,296.68 C229.60,296.51 230.10,296.34 230.60,296.17 C231.10,296.00 231.60,295.82 232.10,295.65 C232.60,295.48 233.10,295.31 233.60,295.14 C234.10,294.97 234.60,294.80 235.10,294.63 C235.60,294.46 236.10,294.28 236.60,294.11 C237.10,293.94 237.60,293.77 238.10,293.59 C238.60,293.42 239.10,293.25 239.60,293.08 C240.10,292.90 240.60,292.73 241.10,292.56 C241.60,292.38 242.10,292.21 242.60,292.04 C243.10,291.86 243.60,291.69 244.10,291.51 C244.60,291.34 245.10,291.16 245.60,290.99 C246.10,290.81 246.60,290.64 247.10,290.46 C247.60,290.28 248.10,290.11 248.60,289.93 C249.10,289.75 249.60,289.57 250.10,289.40 C250.60,289.22 251.10,289.04 251.60,288.86 C252.10,288.68 252.60,288.50 253.10,288.32 C253.60,288.14 254.10,287.96 254.60,287.77 C255.10,287.59 255.60,287.41 256.10,287.22 C256.60,287.04 257.10,286.86 257.60,286.67 C258.10,286.49 258.60,286.30 259.10,286.11 C259.60,285.93 260.10,285.74 260.60,285.55 C261.10,285.36 261.60,285.18 262.10,284.99 C262.60,284.80 263.10,284.61 263.60,284.41 C264.10,284.22 264.60,284.03 265.10,283.84 C265.60,283.64 266.10,283.45 266.60,283.25 C267.10,283.06 267.60,282.86 268.10,282.66 C268.60,282.46 269.10,282.27 269.60,282.07 C270.10,281.87 270.60,281.67 271.10,281.46 C271.60,281.26 272.10,281.06 272.60,280.85 C273.10,280.65 273.60,280.44 274.10,280.24 C274.60,280.03 275.10,279.82 275.60,279.61 C276.10,279.41 276.60,279.20 277.10,278.98 C277.60,278.77 278.10,278.56 278.60,278.34 C279.10,278.13 279.60,277.91 280.10,277.70 C280.60,277.48 281.10,277.26 281.60,277.04 C282.10,276.82 282.60,276.60 283.10,276.38 C283.60,276.16 284.10,275.93 284.60,275.71 C285.10,275.48 285.60,275.25 286.10,275.02 C286.60,274.80 287.10,274.56 287.60,274.33 C288.10,274.10 288.60,273.87 289.10,273.63 C289.60,273.40 290.10,273.16 290.60,272.92 C291.10,272.68 291.60,272.44 292.10,272.20 C292.60,271.96 293.10,271.72 293.60,271.47 C294.10,271.23 294.60,270.98 295.10,270.73 C295.60,270.48 296.10,270.23 296.60,269.98 C297.10,269.73 297.60,269.47 298.10,269.21 C298.60,268.96 299.10,268.70 299.60,268.44 C300.10,268.18 300.60,267.92 301.10,267.66 C301.60,267.39 302.10,267.13 302.60,266.86 C303.10,266.59 303.60,266.32 304.10,266.05 C304.60,265.78 305.10,265.51 305.60,265.24 C306.10,264.96 306.60,264.69 307.10,264.41 C307.60,264.13 308.10,263.85 308.60,263.57 C309.10,263.29 309.60,263.00 310.10,262.72 C310.60,262.43 311.10,262.15 311.60,261.86 C312.10,261.57 312.60,261.28 313.10,260.99 C313.60,260.70 314.10,260.40 314.60,260.11 C315.10,259.81 315.60,259.52 316.10,259.22 C316.60,258.92 317.10,258.62 317.60,258.32 C318.10,258.02 318.60,257.71 319.10,257.41 C319.60,257.10 320.10,256.80 320.60,256.49 C321.10,256.18 321.60,255.87 322.10,255.56 C322.60,255.25 323.10,254.93 323.60,254.62 C324.10,254.30 324.60,253.99 325.10,253.67 C325.60,253.35 326.10,253.03 326.60,252.71 C327.10,252.39 327.60,252.06 328.10,251.74 C328.60,251.41 329.10,251.09 329.60,250.76 C330.10,250.43 330.60,250.10 331.10,249.77 C331.60,249.44 332.10,249.11 332.60,248.77 C333.10,248.44 333.60,248.10 334.10,247.77 C334.60,247.43 335.10,247.09 335.60,246.75 C336.10,246.41 336.60,246.07 337.10,245.73 C337.60,245.38 338.10,245.04 338.60,244.69 C339.10,244.35 339.60,244.00 340.10,243.65 C340.60,243.30 341.10,242.95 341.60,242.60 C342.10,242.24 342.60,241.89 343.10,241.54 C343.60,241.18 344.10,240.82 344.60,240.47 C345.10,240.11 345.60,239.75 346.10,239.39 C346.60,239.03 347.10,238.66 347.60,238.30 C348.10,237.93 348.60,237.56 349.10,237.19 C349.60,236.82 350.10,236.44 350.60,236.07 C351.10,235.69 351.60,235.31 352.10,234.92 C352.60,234.54 353.10,234.15 353.60,233.75 C354.10,233.36 354.60,232.96 355.10,232.56 C355.60,232.15 356.10,231.74 356.60,231.33 C357.10,230.91 357.60,230.49 358.10,230.07 C358.60,229.64 359.10,229.21 359.60,228.77 C360.10,228.33 360.60,227.89 361.10,227.43 C361.60,226.98 362.10,226.52 362.60,226.05 C363.10,225.59 363.60,225.11 364.10,224.63 C364.60,224.15 365.10,223.66 365.60,223.16 C366.10,222.66 366.60,222.15 367.10,221.63 C367.60,221.11 368.10,220.59 368.60,220.05 C369.10,219.51 369.60,218.97 370.10,218.41 C370.60,217.85 371.10,217.29 371.60,216.71 C372.10,216.13 372.60,215.54 373.10,214.94 C373.60,214.35 374.10,213.73 374.60,213.11 C375.10,212.49 375.60,211.86 376.10,211.21 C376.60,210.56 377.10,209.91 377.60,209.23 C378.10,208.56 378.60,207.88 379.10,207.18 C379.60,206.48 380.10,205.77 380.60,205.05 C381.10,204.33 381.60,203.59 382.10,202.84 C382.60,202.09 383.10,201.32 383.60,200.55 C384.10,199.78 384.60,198.99 385.10,198.20 C385.60,197.41 386.10,196.60 386.60,195.80 C387.10,194.99 387.60,194.17 388.10,193.35 C388.60,192.52 389.10,191.69 389.60,190.86 C390.10,190.03 390.60,189.19 391.10,188.35 C391.60,187.52 392.10,186.67 392.60,185.83 C393.10,184.99 393.60,184.15 394.10,183.30 C394.60,182.46 395.10,181.62 395.60,180.78 C396.10,179.94 396.60,179.10 397.10,178.27 C397.60,177.44 398.10,176.61 398.60,175.79 C399.10,174.97 399.60,174.15 400.10,173.34 C400.60,172.53 401.10,171.73 401.60,170.93 C402.10,170.14 402.60,169.35 403.10,168.58 C403.60,167.81 404.10,167.04 404.60,166.29 C405.10,165.54 405.60,164.80 406.10,164.08 C406.60,163.35 407.10,162.64 407.60,161.95 C408.10,161.25 408.60,160.57 409.10,159.91 C409.60,159.25 410.10,158.60 410.60,157.98 C411.10,157.35 411.60,156.74 412.10,156.15 C412.60,155.57 413.10,155.00 413.60,154.45 C414.10,153.91 414.60,153.39 415.10,152.89 C415.60,152.39 416.10,151.91 416.60,151.46 C417.10,151.01 417.77,150.47 418.10,150.19 C418.43,149.92 418.52,149.87 418.60,149.80"/>
</g>
</svg>
</body></html>
